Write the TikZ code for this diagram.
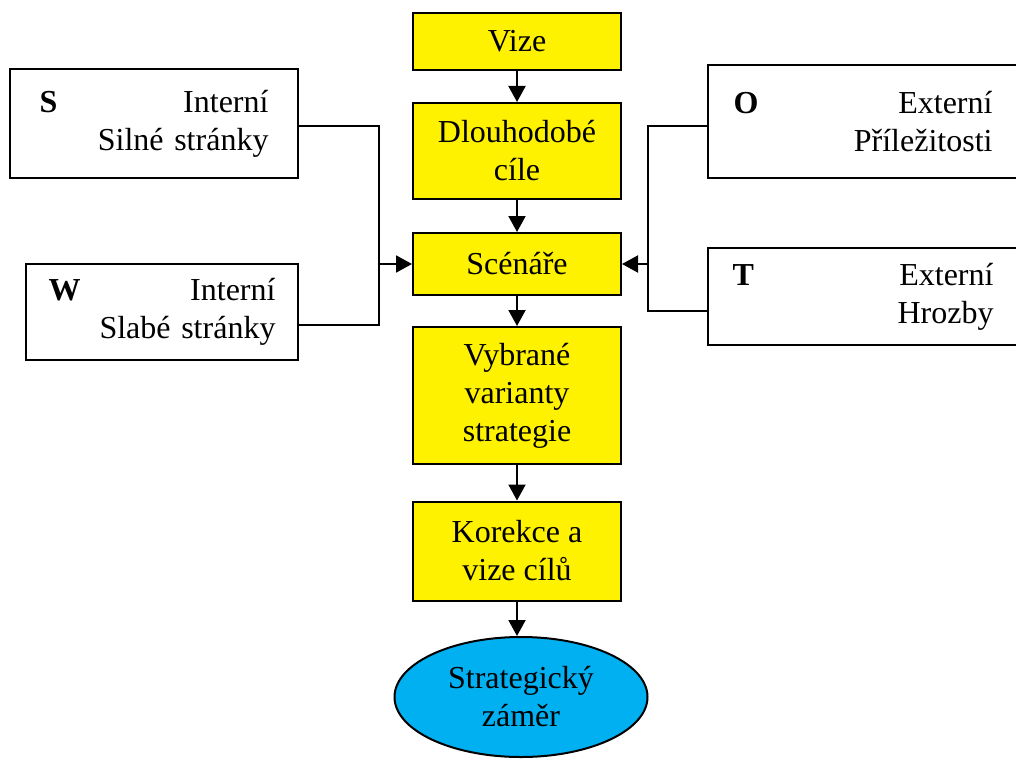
\documentclass[tikz,border=0pt]{standalone}
\usepackage{fontspec}
\setmainfont{Liberation Serif}
\usetikzlibrary{arrows.meta,shapes.geometric}
\definecolor{zamer}{HTML}{00B0F0}

\begin{document}
\begin{tikzpicture}[x=1pt,y=-1pt,
  font=\fontsize{32}{38}\selectfont,
  krok/.style={draw, line width=2pt, fill=yellow, minimum width=208pt, align=center, inner sep=0pt},
  swot/.style={draw, line width=2pt, align=right, inner sep=0pt},
  spoj/.style={line width=2pt},
  >={Triangle[length=16pt,width=17pt]}]
\useasboundingbox (0,0) rectangle (1016,762);

% main column
\node[krok, minimum height=57pt] (v) at (517,41.5) {Vize};
\node[krok, minimum height=96pt] (d) at (517,151) {Dlouhodobé\\cíle};
\node[krok, minimum height=62pt] (sc) at (517,264) {Scénáře};
\node[krok, minimum height=137pt] (vv) at (517,395.5) {Vybrané\\varianty\\strategie};
\node[krok, minimum height=99pt] (k) at (517,551) {Korekce a\\vize cílů};
\node[ellipse, draw, line width=2pt, fill=zamer, inner sep=0pt, align=center,
  minimum width=253pt, minimum height=120pt] (z) at (521,697) {Strategický\\záměr};

% SWOT
\node[swot, minimum width=288pt, minimum height=109pt, text width=229pt] (s) at (154,123.5) {\textbf{S}\hfill Interní\\Silné stránky};
\node[swot, minimum width=272pt, minimum height=96pt, text width=227pt] (w) at (162,312) {\textbf{W}\hfill Interní\\Slabé stránky};
\node[swot, minimum width=310pt, minimum height=113pt, text width=259pt] (o) at (863,121.5) {\textbf{O}\hfill Externí\\Příležitosti};
\node[swot, minimum width=310pt, minimum height=97pt, text width=261pt] (t) at (863,296.5) {\textbf{T}\hfill Externí\\Hrozby};
\coordinate (lj) at (379,264);
\coordinate (rj) at (648,264);

\draw[spoj, ->] (v)--(d);
\draw[spoj, ->] (d)--(sc);
\draw[spoj, ->] (sc)--(vv);
\draw[spoj, ->] (vv)--(k);
\draw[spoj, ->] (k.south)--(k.south |- z.north);

\draw[spoj] ([yshift=-2.5pt]s.east) -| (lj);
\draw[spoj] ([yshift=-13pt]w.east) -| (lj);
\draw[spoj, ->] (lj)--(sc.west);
\draw[spoj] ([yshift=-4.5pt]o.west) -| (rj);
\draw[spoj] ([yshift=-14pt]t.west) -| (rj);
\draw[spoj, ->] (rj)--(sc.east);
\end{tikzpicture}
\end{document}
